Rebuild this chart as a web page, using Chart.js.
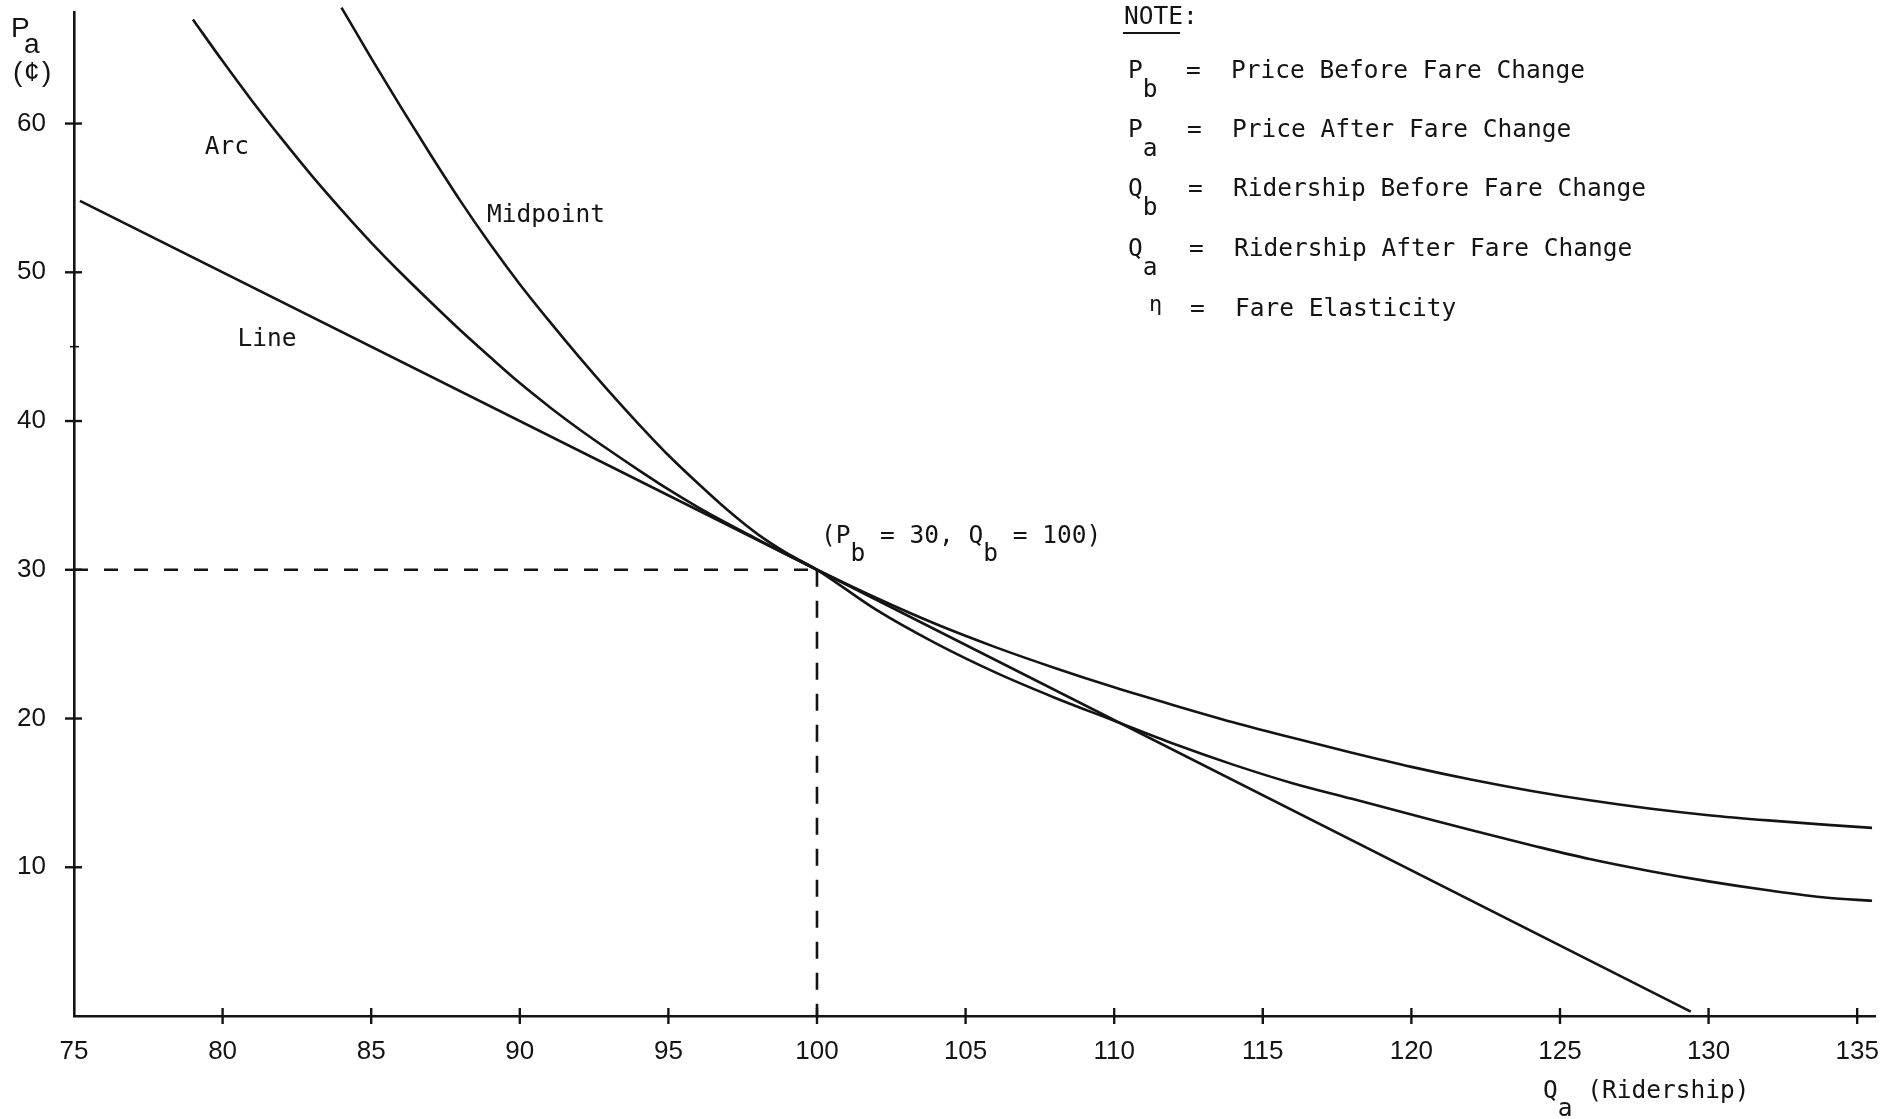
<!DOCTYPE html>
<html>
<head>
<meta charset="utf-8">
<script src="https://cdn.jsdelivr.net/npm/chart.js@4.4.1/dist/chart.umd.min.js"></script>
<style>
  html, body { margin: 0; padding: 0; background: #ffffff; }
  #wrap { width: 1901px; height: 1119px; position: relative; }
</style>
</head>
<body>
<div id="wrap"><canvas id="c"></canvas></div>
<script>
// ---------- data ----------
const xTicks = [75, 80, 85, 90, 95, 100, 105, 110, 115, 120, 125, 130, 135];
const yTicks = [10, 20, 30, 40, 50, 60];
const yMinorTicks = [45];

// reference point (Pb = 30, Qb = 100)
const refQ = 100;
const refP = 30;

// "Line" curve
const lineQ = [75.2, 100, 129.4];
const lineP = [54.8, 30, 0.3];

// "Arc" curve
const arcQ = [79, 80, 81, 82, 83, 84, 85, 86, 87, 88, 89, 90, 91, 92, 93, 94, 95, 96, 97, 98, 99, 100,
              102, 104, 106, 108, 110, 112, 114, 116, 118, 120, 122, 124, 126, 128, 130, 132, 134, 135.5];
const arcP = [67.0, 64.2, 61.5, 58.95, 56.5, 54.2, 52.0, 49.95, 48.0, 46.1, 44.3, 42.55, 40.95, 39.45, 38.05, 36.7, 35.4, 34.2, 33.1, 32.05, 31.0, 30.0,
              28.1, 26.35, 24.8, 23.4, 22.1, 20.9, 19.75, 18.7, 17.7, 16.75, 15.9, 15.15, 14.5, 13.95, 13.5, 13.15, 12.85, 12.65];

// "Midpoint" curve
const midQ = [84, 85, 86, 87, 88, 89, 90, 91, 92, 93, 94, 95, 96, 97, 98, 99, 100,
              102, 104, 106, 108, 110, 112, 114, 116, 118, 120, 122, 124, 126, 128, 130, 132, 134, 135.5];
const midP = [67.8, 64.4, 61.1, 57.9, 54.8, 51.9, 49.2, 46.7, 44.3, 42.0, 39.8, 37.7, 35.8, 34.0, 32.4, 31.1, 30.0,
              27.3, 25.05, 23.1, 21.4, 19.85, 18.3, 16.9, 15.65, 14.6, 13.55, 12.5, 11.5, 10.55, 9.75, 9.05, 8.45, 7.95, 7.75];

// curve labels (text, anchored in data units)
const curveLabels = [
  { text: 'Arc', q: 79.4, p: 58.4 },
  { text: 'Midpoint', q: 88.9, p: 53.8 },
  { text: 'Line', q: 80.5, p: 45.5 }
];

const noteRows = [
  { sym: 'P', sub: 'b', text: 'Price Before Fare Change' },
  { sym: 'P', sub: 'a', text: 'Price After Fare Change' },
  { sym: 'Q', sub: 'b', text: 'Ridership Before Fare Change' },
  { sym: 'Q', sub: 'a', text: 'Ridership After Fare Change' },
  { sym: 'η', sub: '', text: 'Fare Elasticity' }
];

// ---------- styling ----------
const ink = '#141414';
const sans = "'Liberation Sans', Arial, Helvetica, sans-serif";
const mono = "'DejaVu Sans Mono', 'Liberation Mono', monospace";
const pts = (qs, ps) => qs.map((q, i) => ({ x: q, y: ps[i] }));

const curveStyle = {
  showLine: true, borderColor: ink, borderWidth: 2.6, pointRadius: 0,
  fill: false, clip: false, cubicInterpolationMode: 'monotone'
};

function drawSeq(ctx, x, y, parts, subDy) {
  let cx = x;
  parts.forEach(p => {
    const isSub = typeof p === 'object';
    const t = isSub ? p.s : p;
    ctx.fillText(t, cx, y + (isSub ? subDy : 0));
    cx += ctx.measureText(t).width;
  });
}

const annot = {
  id: 'annot',
  afterDraw(chart) {
    const { ctx, scales: { x, y } } = chart;
    ctx.save();
    ctx.strokeStyle = ink;
    ctx.fillStyle = ink;

    // crossing tick marks on both axes
    ctx.lineWidth = 2.4;
    const ax = x.getPixelForValue(x.min);
    const ay = y.getPixelForValue(0);
    yTicks.forEach(v => {
      const py = y.getPixelForValue(v);
      ctx.beginPath(); ctx.moveTo(ax - 9, py); ctx.lineTo(ax + 8, py); ctx.stroke();
    });
    ctx.lineWidth = 1.6;
    yMinorTicks.forEach(v => {
      const py = y.getPixelForValue(v);
      ctx.beginPath(); ctx.moveTo(ax - 4, py); ctx.lineTo(ax + 5, py); ctx.stroke();
    });
    ctx.lineWidth = 2.4;
    xTicks.forEach(v => {
      if (v === x.min) return;
      const px = x.getPixelForValue(v);
      ctx.beginPath(); ctx.moveTo(px, ay - 8); ctx.lineTo(px, ay + 8); ctx.stroke();
    });

    // curve labels
    ctx.font = '24.5px ' + mono;
    ctx.textBaseline = 'middle';
    ctx.textAlign = 'left';
    curveLabels.forEach(l => {
      ctx.fillText(l.text, x.getPixelForValue(l.q), y.getPixelForValue(l.p));
    });

    // reference point label
    drawSeq(ctx, x.getPixelForValue(refQ) + 4, y.getPixelForValue(refP) - 33,
            ['(P', { s: 'b' }, ' = 30, Q', { s: 'b' }, ' = 100)'], 18);

    // NOTE block
    ctx.fillText('NOTE:', 1124, 18);
    ctx.lineWidth = 2;
    ctx.beginPath(); ctx.moveTo(1123, 33); ctx.lineTo(1180, 33); ctx.stroke();
    const rowY = [72, 131, 190, 250, 310];
    const textX = [1231, 1232, 1233, 1234, 1235];
    noteRows.forEach((r, i) => {
      if (r.sub) {
        drawSeq(ctx, 1128, rowY[i], [r.sym, { s: r.sub }], 19);
      } else {
        ctx.save();
        ctx.font = '22px ' + mono;
        ctx.fillText(r.sym, 1149, rowY[i] - 5);
        ctx.restore();
      }
      ctx.fillText('=', 1186 + i, rowY[i]);
      ctx.fillText(r.text, textX[i], rowY[i]);
    });

    // x axis title
    drawSeq(ctx, 1543, 1092, ['Q', { s: 'a' }, ' (Ridership)'], 18);

    // y axis title
    ctx.font = '28px ' + sans;
    ctx.fillText('P', 11, 29);
    ctx.fillText('a', 24, 45);
    ctx.fillText('(', 13, 73);
    ctx.fillText('¢', 24, 73);
    ctx.fillText(')', 42, 73);
    ctx.restore();
  }
};

new Chart(document.getElementById('c'), {
  type: 'scatter',
  data: {
    datasets: [
      Object.assign({ label: 'Line', data: pts(lineQ, lineP) }, curveStyle, { cubicInterpolationMode: 'default', tension: 0 }),
      Object.assign({ label: 'Arc', data: pts(arcQ, arcP) }, curveStyle),
      Object.assign({ label: 'Midpoint', data: pts(midQ, midP) }, curveStyle),
      { label: 'guideH', data: [{ x: xTicks[0], y: refP }, { x: refQ, y: refP }], showLine: true,
        borderColor: ink, borderWidth: 2.6, borderDash: [14, 16], pointRadius: 0 },
      { label: 'guideV', data: [{ x: refQ, y: refP }, { x: refQ, y: 0 }], showLine: true,
        borderColor: ink, borderWidth: 2.6, borderDash: [17, 14], pointRadius: 0 }
    ]
  },
  options: {
    responsive: true,
    maintainAspectRatio: false,
    animation: false,
    events: [],
    layout: { padding: { top: 12, right: 26, left: 0, bottom: 0 } },
    plugins: { legend: { display: false }, tooltip: { enabled: false } },
    scales: {
      x: {
        type: 'linear', min: 75, max: 135.6,
        afterBuildTicks: s => { s.ticks = xTicks.map(v => ({ value: v })); },
        afterFit: s => { s.height = 103; s.paddingLeft = 0; s.paddingRight = 0; },
        grid: { display: false, drawTicks: true, tickLength: 8 },
        border: { display: true, color: ink, width: 2.6 },
        ticks: { color: ink, font: { family: sans, size: 26 }, padding: 12, maxRotation: 0, autoSkip: false }
      },
      y: {
        type: 'linear', min: 0, max: 67.5,
        afterBuildTicks: s => { s.ticks = yTicks.map(v => ({ value: v })); },
        afterFit: s => { s.width = 74; s.paddingTop = 0; s.paddingBottom = 0; },
        grid: { display: false, drawTicks: true, tickLength: 8 },
        border: { display: true, color: ink, width: 2.6 },
        ticks: { color: ink, font: { family: sans, size: 26 }, padding: 20, autoSkip: false }
      }
    }
  },
  plugins: [annot]
});
</script>
</body>
</html>
